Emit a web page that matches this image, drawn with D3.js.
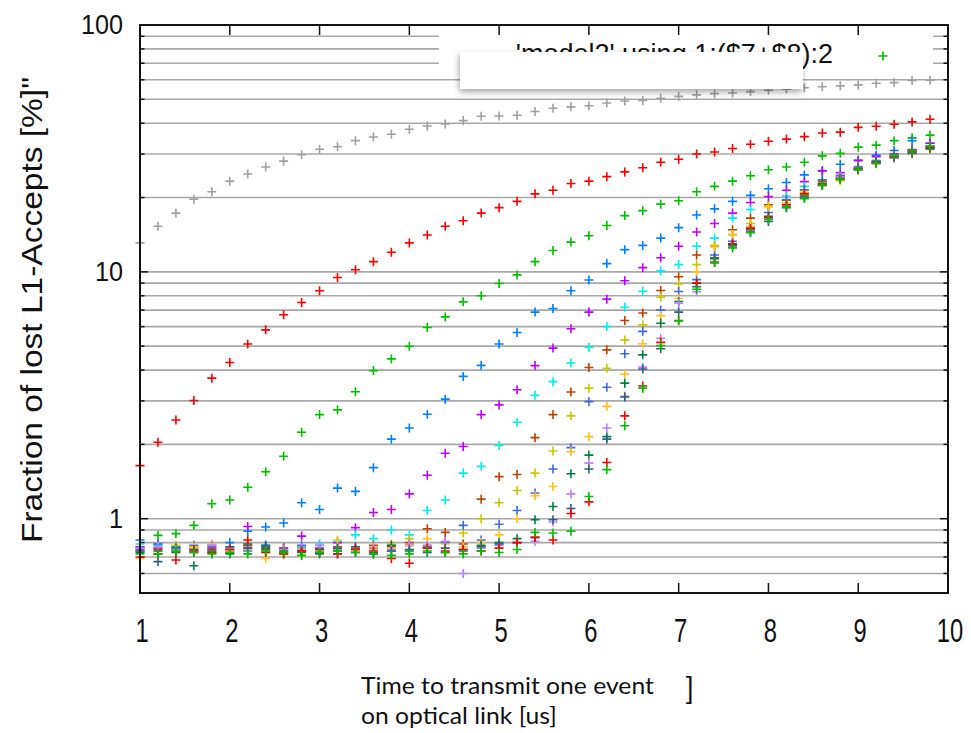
<!DOCTYPE html>
<html>
<head>
<meta charset="utf-8">
<script src="https://d3js.org/d3.v7.min.js"></script>
<style>
  body { margin: 0; background: #fff; }
  svg { display: block; font-family: "Liberation Sans", Arial, Helvetica, sans-serif; }
</style>
</head>
<body>
<svg id="chart"></svg>
<script>
// x: time to transmit one event [us]
const xValues = [1.0, 1.2, 1.4, 1.6, 1.8, 2.0, 2.2, 2.4, 2.6, 2.8,
  3.0, 3.2, 3.4, 3.6, 3.8, 4.0, 4.2, 4.4, 4.6, 4.8,
  5.0, 5.2, 5.4, 5.6, 5.8, 6.0, 6.2, 6.4, 6.6, 6.8,
  7.0, 7.2, 7.4, 7.6, 7.8, 8.0, 8.2, 8.4, 8.6, 8.8,
  9.0, 9.2, 9.4, 9.6, 9.8];

// fraction of lost L1-Accepts [%], one array per curve
const seriesGray = [13.1, 15.3, 17.3, 19.7, 21.1, 23.3, 24.9, 26.6, 28.1, 29.8,
  31.4, 32.1, 34.0, 35.2, 36.1, 37.8, 39.0, 39.7, 41.0, 42.7,
  42.8, 43.1, 44.6, 46.0, 46.6, 47.1, 48.3, 49.2, 49.5, 50.5,
  51.4, 52.1, 52.7, 53.0, 53.7, 54.4, 55.0, 55.7, 56.2, 56.7,
  57.2, 58.1, 58.4, 59.6, 59.7];
const seriesRed = [1.64, 2.04, 2.51, 3.01, 3.71, 4.29, 5.10, 5.82, 6.70, 7.51,
  8.38, 9.48, 10.2, 11.0, 12.0, 13.1, 14.1, 15.3, 16.1, 17.3,
  18.2, 19.3, 20.7, 21.4, 22.8, 23.3, 24.3, 25.4, 26.4, 27.8,
  28.6, 30.0, 30.6, 31.6, 32.9, 33.8, 34.5, 35.3, 36.5, 36.8,
  38.5, 38.9, 39.6, 40.5, 41.5];
const seriesGreen = [0.74, 0.856, 0.87, 0.94, 1.15, 1.19, 1.34, 1.55, 1.79, 2.24,
  2.64, 2.76, 3.27, 3.98, 4.44, 4.99, 5.95, 6.57, 7.56, 8.0,
  8.97, 9.72, 11.0, 12.2, 13.2, 14.0, 15.4, 16.9, 17.7, 18.8,
  19.4, 21.1, 22.2, 23.3, 24.5, 25.9, 26.6, 27.8, 29.5, 30.2,
  32.0, 32.6, 34.0, 34.9, 35.8];
const seriesBlue = [0.82, 0.79, 0.77, 0.75, 0.78, 0.80, 0.89, 0.925, 0.96, 1.16,
  1.09, 1.33, 1.29, 1.61, 2.10, 2.33, 2.65, 3.05, 3.77, 4.18,
  5.10, 5.68, 6.87, 7.10, 8.38, 9.27, 10.8, 12.3, 12.8, 13.7,
  15.1, 17.0, 18.0, 19.3, 20.4, 21.7, 23.0, 24.7, 25.7, 27.3,
  28.4, 29.7, 31.0, 34.0, 33.2];
const seriesMagenta = [0.77, 0.76, 0.75, 0.73, 0.76, 0.74, 0.93, 0.77, 0.76, 0.85,
  0.76, 0.80, 0.92, 1.06, 1.09, 1.26, 1.50, 1.84, 1.96, 2.64,
  2.89, 3.33, 4.17, 4.91, 5.88, 6.87, 7.75, 9.2, 10.4, 11.4,
  12.7, 14.5, 15.7, 17.3, 19.1, 20.2, 21.4, 23.2, 25.6, 25.2,
  28.2, 29.3, 30.1, 31.3, 33.2];
const seriesCyan = [0.79, 0.78, 0.76, 0.74, 0.75, 0.77, 0.75, 0.78, 0.74, 0.77,
  0.79, 0.81, 0.86, 0.83, 0.90, 0.86, 1.08, 1.19, 1.53, 1.63,
  1.98, 2.46, 3.16, 3.59, 4.27, 4.94, 6.0, 7.19, 8.35, 10.1,
  10.7, 12.7, 13.7, 16.5, 17.9, 18.5, 20.3, 22.2, 23.5, 24.5,
  26.7, 28.3, 29.6, 30.8, 32.3];
const seriesBrown = [0.76, 0.75, 0.74, 0.77, 0.75, 0.73, 0.78, 0.75, 0.76, 0.74,
  0.75, 0.77, 0.76, 0.78, 0.77, 0.80, 0.91, 0.88, 0.79, 1.20,
  1.48, 1.51, 2.13, 2.64, 3.26, 4.10, 4.83, 6.35, 6.81, 8.4,
  9.55, 11.7, 12.7, 14.8, 16.5, 18.7, 19.5, 21.5, 23.2, 24.2,
  26.3, 28.0, 29.4, 30.5, 31.9];
const seriesOlive = [0.74, 0.77, 0.78, 0.76, 0.74, 0.75, 0.76, 0.73, 0.72, 0.75,
  0.73, 0.76, 0.77, 0.75, 0.79, 0.83, 0.78, 0.80, 0.875, 1.0,
  1.16, 1.30, 1.53, 1.88, 2.61, 3.38, 4.07, 5.30, 6.1, 7.9,
  8.93, 10.7, 12.8, 14.1, 15.7, 18.5, 19.0, 21.0, 22.8, 23.6,
  26.0, 27.6, 29.2, 30.2, 31.6];
const seriesRoyal = [0.75, 0.79, 0.76, 0.78, 0.77, 0.76, 0.74, 0.77, 0.75, 0.78,
  0.74, 0.72, 0.75, 0.76, 0.74, 0.78, 0.77, 0.80, 0.94, 0.82,
  0.95, 1.08, 1.27, 1.59, 1.94, 2.98, 3.41, 4.66, 5.74, 7.0,
  8.33, 9.3, 11.7, 13.3, 15.2, 17.4, 19.6, 21.5, 23.6, 24.6,
  26.6, 28.1, 29.7, 31.0, 32.2];
const seriesGold = [0.69, 0.74, 0.73, 0.77, 0.79, 0.74, 0.75, 0.69, 0.72, 0.71,
  0.74, 0.82, 0.74, 0.77, 0.76, 0.78, 0.83, 0.79, 0.77, 0.80,
  0.86, 1.0, 1.24, 1.35, 1.87, 2.15, 2.85, 3.85, 5.11, 6.65,
  7.8, 10.0, 12.6, 14.2, 15.3, 18.3, 18.8, 20.6, 22.6, 23.4,
  25.8, 27.4, 28.9, 30.0, 31.3];
const seriesDarkGreen = [0.73, 0.74, 0.76, 0.645, 0.73, 0.72, 0.79, 0.76, 0.74, 0.73,
  0.75, 0.74, 0.73, 0.72, 0.78, 0.74, 0.76, 0.73, 0.75, 0.78,
  0.80, 0.83, 0.99, 1.12, 1.52, 1.81, 2.15, 3.54, 4.61, 6.19,
  7.58, 9.0, 11.3, 12.9, 14.8, 16.8, 18.5, 20.3, 22.8, 24.0,
  26.1, 27.8, 29.0, 30.4, 31.8];
const seriesLightPurple = [0.76, 0.77, 0.75, 0.74, 0.78, 0.76, 0.77, 0.74, 0.75, 0.76,
  0.78, 0.75, 0.77, 0.76, 0.75, 0.79, 0.78, 0.81, 0.60, 0.76,
  0.78, 0.80, 0.81, 0.97, 1.26, 1.68, 2.33, 3.13, 4.11, 5.38,
  7.46, 8.3, 11.0, 12.7, 14.6, 16.5, 18.6, 20.0, 22.5, 24.2,
  25.9, 27.5, 28.9, 30.7, 32.0];
const seriesSteel = [0.74, 0.67, 0.73, 0.75, 0.74, 0.77, 0.76, 0.78, 0.73, 0.74,
  0.72, 0.76, 0.77, 0.73, 0.74, 0.75, 0.73, 0.76, 0.74, 0.77,
  0.79, 0.80, 0.84, 0.99, 1.10, 1.59, 2.10, 3.11, 4.04, 4.88,
  6.87, 8.7, 11.4, 12.8, 14.5, 16.0, 18.2, 20.1, 22.4, 23.7,
  25.9, 27.6, 29.2, 30.2, 31.5];
const seriesRed2 = [0.70, 0.72, 0.68, 0.74, 0.73, 0.75, 0.82, 0.73, 0.72, 0.74,
  0.73, 0.72, 0.75, 0.74, 0.69, 0.66, 0.76, 0.74, 0.75, 0.74,
  0.76, 0.80, 0.84, 0.82, 1.05, 1.17, 1.69, 2.61, 3.45, 5.18,
  6.35, 9.0, 10.9, 13.0, 15.0, 16.6, 18.7, 20.7, 22.6, 23.9,
  26.2, 27.7, 29.3, 30.9, 32.0];
const seriesGreen2 = [0.72, 0.72, 0.74, 0.73, 0.72, 0.73, 0.72, 0.74, 0.73, 0.71,
  0.73, 0.74, 0.73, 0.72, 0.71, 0.72, 0.74, 0.73, 0.72, 0.74,
  0.73, 0.75, 0.88, 0.875, 0.89, 1.23, 1.58, 2.38, 3.38, 5.03,
  6.33, 8.5, 10.9, 12.5, 14.4, 16.3, 18.3, 19.8, 22.4, 23.8,
  26.0, 27.5, 29.5, 31.0, 32.3];

const seriesValues = [seriesGray, seriesRed, seriesGreen, seriesBlue, seriesMagenta,
  seriesCyan, seriesBrown, seriesOlive, seriesRoyal, seriesGold, seriesDarkGreen,
  seriesLightPurple, seriesSteel, seriesRed2, seriesGreen2];
const seriesColors = ['#a0a0a0', '#ff0000', '#00c000', '#0080ff', '#c000ff',
  '#00eeee', '#c04000', '#c8c800', '#4169e1', '#ffc020', '#008040',
  '#c080ff', '#306080', '#ff0000', '#00c000'];

// axis ticks
const xTicks = [1, 2, 3, 4, 5, 6, 7, 8, 9, 10];
const yMajorTicks = [1, 10, 100];
const yGridTicks = [0.6, 0.7, 0.8, 0.9, 1, 2, 3, 4, 5, 6, 7, 8, 9,
  10, 20, 30, 40, 50, 60, 70, 80, 90];

const legendLabel = "'model2' using 1:($7+$8):2";
const yTitle = 'Fraction of lost L1-Accepts [%]"';
const xTitleLines = ['Time to transmit one event', 'on optical link [us]'];

const W = 971;
const H = 733;
const margin = { top: 25, right: 23, bottom: 140, left: 140 };
const width = W - margin.left - margin.right;
const height = H - margin.top - margin.bottom;

const svg = d3.select('#chart').attr('width', W).attr('height', H);

const defs = svg.append('defs');
const shadow = defs.append('filter').attr('id', 'shadow')
  .attr('x', '-10%').attr('y', '-30%').attr('width', '120%').attr('height', '180%');
shadow.append('feDropShadow')
  .attr('dx', -1).attr('dy', 3).attr('stdDeviation', 3)
  .attr('flood-color', '#000').attr('flood-opacity', 0.35);

const chart = svg.append('g')
  .attr('transform', `translate(${margin.left},${margin.top})`);

const xScale = d3.scaleLinear().domain([1, 10]).range([0, width]);
const yScale = d3.scaleLog().domain([0.5, 100]).range([height, 0]);

// horizontal grid lines
chart.append('g').attr('class', 'grid')
  .selectAll('line')
  .data(yGridTicks)
  .join('line')
  .attr('x1', 0).attr('x2', width)
  .attr('y1', (d) => yScale(d)).attr('y2', (d) => yScale(d))
  .attr('stroke', '#a8a8a8')
  .attr('stroke-width', 1.6);

// key area blanks the grid
chart.append('rect')
  .attr('x', 299).attr('y', 5)
  .attr('width', 494).attr('height', 42)
  .attr('fill', '#fff');

// tick marks (inward, mirrored)
const ticks = chart.append('g').attr('stroke', '#111').attr('stroke-width', 1.5);
yGridTicks.concat([100]).forEach((v) => {
  const len = yMajorTicks.includes(v) ? 8 : 4.5;
  const y = yScale(v);
  ticks.append('line').attr('x1', 0).attr('x2', len).attr('y1', y).attr('y2', y);
  ticks.append('line').attr('x1', width - len).attr('x2', width).attr('y1', y).attr('y2', y);
});
xTicks.slice(1, -1).forEach((v) => {
  const x = xScale(v);
  ticks.append('line').attr('x1', x).attr('x2', x).attr('y1', height).attr('y2', height - 10);
  ticks.append('line').attr('x1', x).attr('x2', x).attr('y1', 0).attr('y2', 10);
});

// the points, one "+" each
const cross = 'M-4.5,0H4.5M0,-4.5V4.5';
const marks = chart.append('g');
seriesValues.forEach((vals, s) => {
  marks.append('g')
    .selectAll('path')
    .data(vals)
    .join('path')
    .attr('d', cross)
    .attr('transform', (d, i) => `translate(${xScale(xValues[i])},${yScale(d)})`)
    .attr('fill', 'none')
    .attr('stroke', seriesColors[s])
    .attr('stroke-width', 1.6);
});

// frame
chart.append('rect')
  .attr('width', width).attr('height', height)
  .attr('fill', 'none').attr('stroke', '#111').attr('stroke-width', 2);

// y tick labels
svg.append('g').selectAll('text')
  .data(yMajorTicks)
  .join('text')
  .attr('transform', (d) => `translate(123,${margin.top + yScale(d) + 9}) scale(0.9,1)`)
  .attr('text-anchor', 'end')
  .attr('font-size', 28)
  .attr('fill', '#111')
  .text((d) => d);

// x tick labels (tall, narrow digits)
svg.append('g').selectAll('text')
  .data(xTicks)
  .join('text')
  .attr('transform', (d) => `translate(${margin.left + xScale(d) + 2},642) scale(0.72,1)`)
  .attr('text-anchor', 'middle')
  .attr('font-size', 33)
  .attr('fill', '#111')
  .text((d) => d);

// y axis title
svg.append('text')
  .attr('transform', 'translate(42,310) rotate(-90)')
  .attr('text-anchor', 'middle')
  .attr('font-size', 30)
  .attr('textLength', 466)
  .attr('lengthAdjust', 'spacingAndGlyphs')
  .attr('fill', '#111')
  .text(yTitle);

// x axis title (two lines), both squeezed by the same factor
const xTitle = svg.append('g')
  .attr('font-family', 'Lato, "Open Sans", sans-serif')
  .attr('font-size', 23)
  .attr('fill', '#111');
const line1 = xTitle.append('text').attr('y', 694).text(xTitleLines[0]);
const line2 = xTitle.append('text').attr('y', 724).text(xTitleLines[1]);
const k = 293 / line1.node().getComputedTextLength();
line1.attr('transform', `translate(361,0) scale(${k},1)`);
line2.attr('transform', `translate(361,0) scale(${k},1)`);
xTitle.append('text').attr('x', 685).attr('y', 700)
  .attr('font-size', 30).text(']');

// legend entry
svg.append('text')
  .attr('x', 833).attr('y', 63)
  .attr('text-anchor', 'end')
  .attr('font-size', 27)
  .attr('fill', '#111')
  .text(legendLabel);
svg.append('path')
  .attr('d', cross)
  .attr('transform', 'translate(883,56)')
  .attr('fill', 'none')
  .attr('stroke', seriesColors[2])
  .attr('stroke-width', 1.6);

// white box pasted over the key
svg.append('rect')
  .attr('x', 460).attr('y', 52)
  .attr('width', 343).attr('height', 37)
  .attr('fill', '#fff')
  .attr('filter', 'url(#shadow)');
</script>
</body>
</html>
